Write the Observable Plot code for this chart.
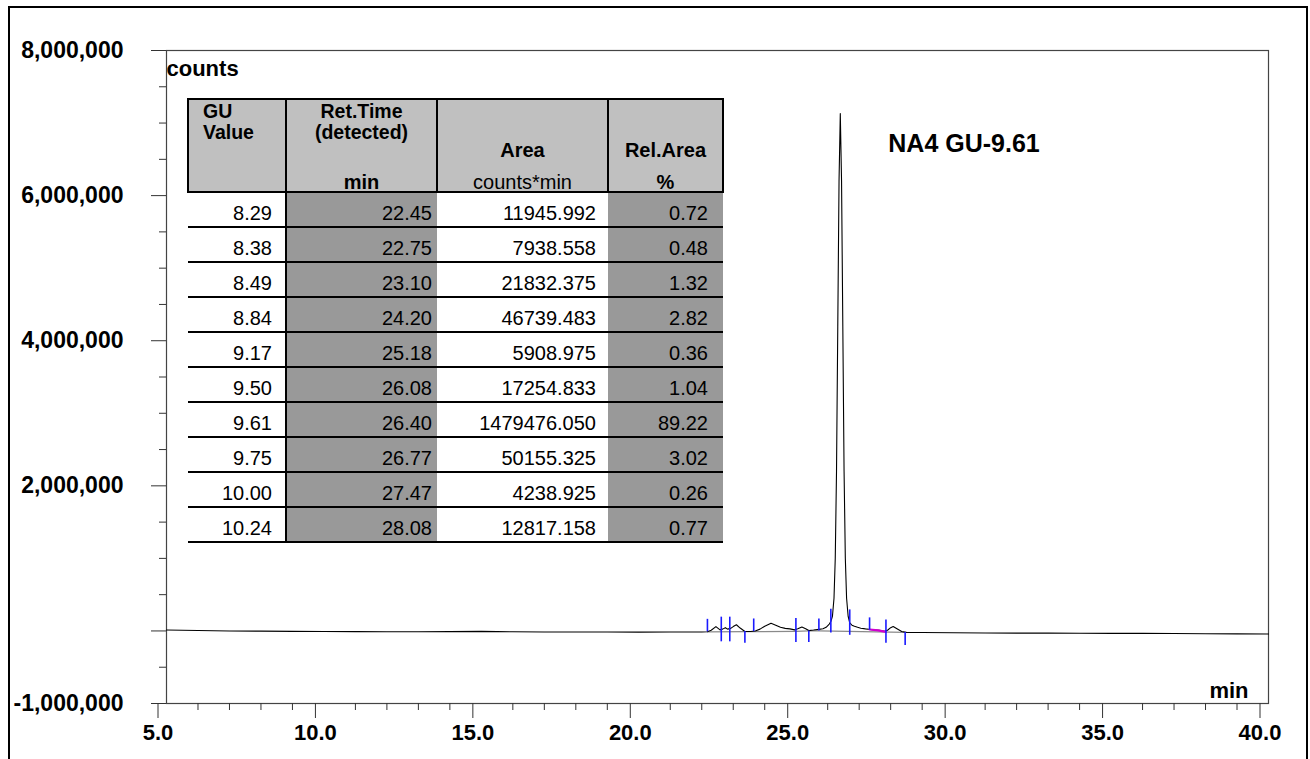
<!DOCTYPE html>
<html><head><meta charset="utf-8">
<script src="https://cdn.jsdelivr.net/npm/d3@7"></script>
<script src="https://cdn.jsdelivr.net/npm/@observablehq/plot@0.6"></script>
<style>
body{margin:0;background:#fff;overflow:hidden;font-family:"Liberation Sans",Arial,sans-serif;}
#wrap{position:relative;width:1310px;height:759px;}
#chart{position:absolute;left:0;top:0;}
#frame{position:absolute;left:8px;top:6px;width:1300px;height:753px;border:2px solid #000;border-bottom:none;box-sizing:border-box;pointer-events:none;}
#tbl{position:absolute;left:0;top:0;width:1310px;height:759px;pointer-events:none;}
.c{position:absolute;box-sizing:border-box;}
.t{position:absolute;white-space:nowrap;font-size:20px;line-height:1;color:#000;}
</style>
</head><body>
<div id="wrap"><div id="chart"></div><div id="tbl"></div><div id="frame"></div></div>
<script>
// chromatogram trace (min, counts)
const times  = [5.0,6.0,7.0,8.0,9.0,10.0,11.0,12.0,13.0,14.0,15.0,15.5,16.0,17.0,18.0,19.0,20.0,21.0,22.0,
  22.18,22.30,22.45,22.58,22.66,22.75,22.82,22.92,23.00,23.10,23.22,23.37,23.55,23.70,23.85,24.00,24.20,24.35,24.50,24.65,24.80,24.95,
  25.05,25.18,25.30,25.40,25.55,25.72,25.85,25.95,26.05,26.10,26.15,26.20,26.24,26.28,26.32,26.36,26.40,26.44,26.48,26.52,26.56,26.60,
  26.65,26.70,26.77,26.85,26.95,27.05,27.20,27.35,27.50,27.65,27.80,27.90,28.00,28.08,28.20,28.35,28.50,
  29.0,30.0,31.0,32.0,33.0,34.0,35.0,36.0,37.0,38.0,39.0,40.0];
const counts = [12000,6000,0,-3000,-6000,-8000,-10000,-12000,-12000,-10000,-6000,-9000,-12000,-14000,-15000,-15000,-16000,-15000,-14000,
  -12000,10000,60000,15000,25000,45000,25000,35000,60000,85000,40000,-8000,-8000,0,25000,65000,105000,80000,50000,35000,28000,15000,
  30000,55000,30000,5000,12000,22000,30000,50000,95000,130000,200000,450000,1000000,2200000,4200000,6200000,7130000,6200000,4200000,2200000,1000000,450000,
  200000,110000,80000,65000,50000,38000,28000,20000,14000,8000,-5000,10000,45000,60000,30000,-8000,-20000,
  -22000,-25000,-28000,-30000,-30000,-32000,-33000,-34000,-36000,-38000,-40000,-42000];

// peak delimiter marks (min, lower counts, upper counts)
const markTimes = [22.18,22.62,22.89,23.37,23.65,24.99,25.40,25.72,26.10,26.70,27.33,27.85,28.46];
const markLow   = [-12000,-150000,-150000,-170000,-10000,-160000,-160000,0,-30000,-60000,10000,-170000,-200000];
const markHigh  = [160000,190000,190000,-8000,165000,170000,0,165000,300000,290000,180000,150000,-20000];

// integration baseline (grey) and highlighted segment (magenta)
const baseTimes = [22.18,23.37,23.65,24.99,25.40,25.72,28.46];
const baseCounts = [-12000,-8000,-10000,-5000,0,0,-20000];
const magTimes = [27.33,27.60,27.85];
const magCounts = [20000,8000,-12000];

// axis ticks
const xMajor = [5,10,15,20,25,30,35,40];
const xMinor = d3.range(5,41,1).filter(v => v % 5 !== 0);
const yMajor = [-1000000,0,2000000,4000000,6000000,8000000];
const yLabels = [-1000000,2000000,4000000,6000000,8000000];
const yMinor = d3.range(-1000000,8000001,500000).filter(v => !yMajor.includes(v));

// peak label
const peakLabel = [{t:26.40, c:7130000, label:"NA4 GU-9.61"}];

// table
const guValues = ["8.29","8.38","8.49","8.84","9.17","9.50","9.61","9.75","10.00","10.24"];
const retTimes = ["22.45","22.75","23.10","24.20","25.18","26.08","26.40","26.77","27.47","28.08"];
const areas    = ["11945.992","7938.558","21832.375","46739.483","5908.975","17254.833","1479476.050","50155.325","4238.925","12817.158"];
const relAreas = ["0.72","0.48","1.32","2.82","0.36","1.04","89.22","3.02","0.26","0.77"];

const trace = times.map((t,i) => ({t, c: counts[i]}));
const marks = markTimes.map((t,i) => ({t, lo: markLow[i], hi: markHigh[i]}));
const base = baseTimes.map((t,i) => ({t, c: baseCounts[i]}));
const mag = magTimes.map((t,i) => ({t, c: magCounts[i]}));

const fmtY = d => d3.format(",")(d).replace("\u2212", "-");
const chart = Plot.plot({
  width: 1310, height: 759,
  marginLeft: 166, marginRight: 42, marginTop: 50, marginBottom: 56,
  x: {domain: [5, 40], label: null},
  y: {domain: [-1000000, 8000000], label: null},
  style: {fontFamily: "'Liberation Sans', Arial, sans-serif", background: "transparent", color: "#000"},
  marks: [
    Plot.frame({stroke: "#444", strokeWidth: 1.2}),
    Plot.axisX(xMinor, {tickSize: 7, tickFormat: () => "", stroke: "#333", label: null}),
    Plot.axisX(xMajor, {tickSize: 15, tickPadding: 6, tickFormat: d => d.toFixed(1), stroke: "#333", fill: "#000",
      fontSize: 22, fontWeight: "bold", dx: -8.5, label: null}),
    Plot.axisY(yMinor, {tickSize: 7, tickFormat: () => "", stroke: "#333", label: null}),
    Plot.axisY(yMajor, {tickSize: 15, tickFormat: () => "", stroke: "#333", label: null}),
    Plot.text(yLabels, {y: d => d, text: d => fmtY(d), frameAnchor: "left", textAnchor: "end", dx: -43,
      fontSize: 23, fontWeight: "bold", fill: "#000"}),
    Plot.line(base, {x: "t", y: "c", stroke: "#8a8a8a", strokeWidth: 1.2}),
    Plot.line(trace, {x: "t", y: "c", stroke: "#000", strokeWidth: 1.1}),
    Plot.line(mag, {x: "t", y: "c", stroke: "#d000d0", strokeWidth: 2.2}),
    Plot.ruleX(marks, {x: "t", y1: "lo", y2: "hi", stroke: "#1a1aff", strokeWidth: 1.6}),
    Plot.text(["counts"], {frameAnchor: "top-left", text: d => d, textAnchor: "start", lineAnchor: "bottom",
      dy: 25, dx: 0, fontSize: 22, fontWeight: "bold"}),
    Plot.text(["min"], {frameAnchor: "bottom-right", text: d => d, textAnchor: "end", lineAnchor: "bottom",
      dy: -6, dx: -20, fontSize: 22, fontWeight: "bold"}),
    Plot.text(peakLabel, {x: "t", y: "c", text: "label", textAnchor: "start", lineAnchor: "middle",
      dx: 48, dy: 30, fontSize: 25, fontWeight: "bold"})
  ]
});
document.getElementById("chart").appendChild(chart);

// ---- table overlay ----
const tbl = document.getElementById("tbl");
const X = [188, 286, 437, 608, 723];
const top0 = 99, headH = 93, rowH = 35;
function div(cls, style, text) {
  const d = document.createElement("div");
  d.className = cls;
  Object.assign(d.style, style);
  if (text != null) d.textContent = text;
  tbl.appendChild(d);
  return d;
}
const nRows = guValues.length;
const dataTop = top0 + headH;
[1, 3].forEach(ci => div("c", {left: X[ci] + "px", top: dataTop + "px", width: (X[ci+1]-X[ci]) + "px",
  height: (nRows*rowH) + "px", background: "#999999"}));
for (let ci = 0; ci < 4; ci++) {
  div("c", {left: (X[ci]-1) + "px", top: (top0-1) + "px", width: (X[ci+1]-X[ci]+2) + "px", height: (headH+2) + "px",
    background: "#c0c0c0", border: "2px solid #000"});
}
for (let r = 1; r <= nRows; r++) {
  div("c", {left: X[0] + "px", top: (dataTop + r*rowH - 1) + "px", width: (X[4]-X[0]) + "px", height: "2px", background: "#000"});
}
div("c", {left: (X[1]-1) + "px", top: dataTop + "px", width: "2px", height: (nRows*rowH) + "px", background: "#000"});

function txt(str, x, baseline, align, bold, size) {
  size = size || 20;
  const d = div("t", {top: (baseline - size*0.905) + "px", fontSize: size + "px", fontWeight: bold ? "bold" : "normal"}, str);
  if (align === "left") d.style.left = x + "px";
  else if (align === "right") { d.style.left = x + "px"; d.style.transform = "translateX(-100%)"; }
  else { d.style.left = x + "px"; d.style.transform = "translateX(-50%)"; }
}
const mid = i => (X[i] + X[i+1]) / 2;
txt("GU", 203, 120, "left", true, 19.5);
txt("Value", 203, 140.5, "left", true, 19.5);
txt("Ret.Time", mid(1), 120, "center", true, 19.5);
txt("(detected)", mid(1), 140.5, "center", true, 19.5);
txt("Area", mid(2), 158, "center", true);
txt("Rel.Area", mid(3), 158, "center", true);
txt("min", mid(1), 190, "center", true);
txt("counts*min", mid(2), 190, "center", false);
txt("%", mid(3), 190, "center", true);
const rightEdges = [272, 432, 596, 708];
const cols = [guValues, retTimes, areas, relAreas];
for (let r = 0; r < nRows; r++) {
  const bl = dataTop + r*rowH + 29;
  cols.forEach((col, ci) => txt(col[r], rightEdges[ci], bl, "right", false));
}
</script>
</body></html>
